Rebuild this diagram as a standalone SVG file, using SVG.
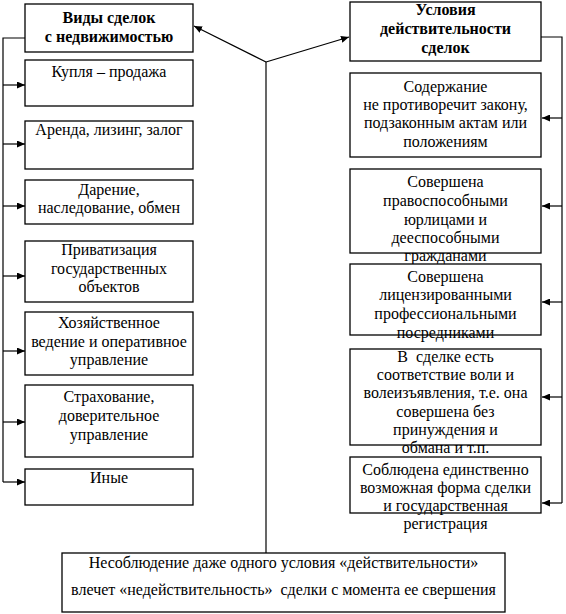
<svg xmlns="http://www.w3.org/2000/svg" width="566" height="614" viewBox="0 0 566 614">
<style>
.box{fill:#fff;stroke:#000;stroke-width:1.3}
.lbl{font-family:'Liberation Serif',serif;font-size:16px;fill:#000;text-anchor:middle}
.bold{font-weight:bold}
.ln{fill:none;stroke:#000;stroke-width:1.2}
</style>
<defs>
<marker id="ah" markerUnits="userSpaceOnUse" markerWidth="8" markerHeight="7" refX="8" refY="3.5" orient="auto">
<path d="M0,0 L8,3.5 L0,7 z" fill="#000"/>
</marker>
</defs>
<rect width="566" height="614" fill="#fff"/>
<g id="connectors" class="ln">
<polyline points="25,38 3,38 3,482"/>
<line x1="3" y1="85" x2="25" y2="85" marker-end="url(#ah)"/>
<line x1="3" y1="144" x2="25" y2="144" marker-end="url(#ah)"/>
<line x1="3" y1="206" x2="25" y2="206" marker-end="url(#ah)"/>
<line x1="3" y1="276" x2="25" y2="276" marker-end="url(#ah)"/>
<line x1="3" y1="351" x2="25" y2="351" marker-end="url(#ah)"/>
<line x1="3" y1="422" x2="25" y2="422" marker-end="url(#ah)"/>
<line x1="3" y1="482" x2="25" y2="482" marker-end="url(#ah)"/>
<polyline points="541,37 562,37 562,503"/>
<line x1="562" y1="118" x2="542" y2="118" marker-end="url(#ah)"/>
<line x1="562" y1="206" x2="542" y2="206" marker-end="url(#ah)"/>
<line x1="562" y1="302" x2="542" y2="302" marker-end="url(#ah)"/>
<line x1="562" y1="397" x2="542" y2="397" marker-end="url(#ah)"/>
<line x1="562" y1="503" x2="542" y2="503" marker-end="url(#ah)"/>
<line x1="266" y1="553" x2="266" y2="62"/>
<line x1="266" y1="62" x2="194" y2="26" marker-end="url(#ah)"/>
<line x1="266" y1="62" x2="349" y2="37" marker-end="url(#ah)"/>
</g>
<g id="vidy">
<rect class="box" x="25" y="4" width="168" height="48"/>
<text class="lbl bold" x="109" y="23">Виды сделок</text>
<text class="lbl bold" x="109" y="42">с недвижимостью</text>
</g>
<g id="kuplya">
<rect class="box" x="25" y="60" width="168" height="46"/>
<text class="lbl" x="109" y="77">Купля – продажа</text>
</g>
<g id="arenda">
<rect class="box" x="25" y="121" width="168" height="48"/>
<text class="lbl" x="109" y="135">Аренда, лизинг, залог</text>
</g>
<g id="darenie">
<rect class="box" x="25" y="180" width="168" height="44"/>
<text class="lbl" x="109" y="195">Дарение,</text>
<text class="lbl" x="109" y="213">наследование, обмен</text>
</g>
<g id="privatizaciya">
<rect class="box" x="25" y="241" width="168" height="61"/>
<text class="lbl" x="109" y="255">Приватизация</text>
<text class="lbl" x="109" y="274">государственных</text>
<text class="lbl" x="109" y="292">объектов</text>
</g>
<g id="hozyaystvennoe">
<rect class="box" x="25" y="312" width="168" height="63"/>
<text class="lbl" x="109" y="328">Хозяйственное</text>
<text class="lbl" x="109" y="347">ведение и оперативное</text>
<text class="lbl" x="109" y="365">управление</text>
</g>
<g id="strahovanie">
<rect class="box" x="25" y="385" width="168" height="72"/>
<text class="lbl" x="109" y="402">Страхование,</text>
<text class="lbl" x="109" y="421">доверительное</text>
<text class="lbl" x="109" y="440">управление</text>
</g>
<g id="inye">
<rect class="box" x="25" y="469" width="168" height="36"/>
<text class="lbl" x="109" y="483">Иные</text>
</g>
<g id="usloviya">
<rect class="box" x="350" y="2" width="191" height="59"/>
<text class="lbl bold" x="445.5" y="15">Условия</text>
<text class="lbl bold" x="445.5" y="34">действительности</text>
<text class="lbl bold" x="445.5" y="53">сделок</text>
</g>
<g id="soderzhanie">
<rect class="box" x="350" y="73" width="191" height="84"/>
<text class="lbl" x="445.5" y="92">Содержание</text>
<text class="lbl" x="445.5" y="110">не противоречит закону,</text>
<text class="lbl" x="445.5" y="128">подзаконным актам или</text>
<text class="lbl" x="445.5" y="147">положениям</text>
</g>
<g id="pravosposobnymi">
<rect class="box" x="350" y="169" width="191" height="84"/>
<text class="lbl" x="445.5" y="187">Совершена</text>
<text class="lbl" x="445.5" y="206">правоспособными</text>
<text class="lbl" x="445.5" y="225">юрлицами и</text>
<text class="lbl" x="445.5" y="243">дееспособными</text>
<text class="lbl" x="445.5" y="261">гражданами</text>
</g>
<g id="licenzirovannymi">
<rect class="box" x="350" y="264" width="191" height="71"/>
<text class="lbl" x="445.5" y="282">Совершена</text>
<text class="lbl" x="445.5" y="300">лицензированными</text>
<text class="lbl" x="445.5" y="319">профессиональными</text>
<text class="lbl" x="445.5" y="338">посредниками</text>
</g>
<g id="volya">
<rect class="box" x="350" y="349" width="191" height="96"/>
<text class="lbl" x="445.5" y="362" xml:space="preserve">В  сделке есть</text>
<text class="lbl" x="445.5" y="380">соответствие воли и</text>
<text class="lbl" x="445.5" y="398">волеизъявления, т.е. она</text>
<text class="lbl" x="445.5" y="417">совершена без</text>
<text class="lbl" x="445.5" y="435">принуждения и</text>
<text class="lbl" x="445.5" y="453">обмана и т.п.</text>
</g>
<g id="forma">
<rect class="box" x="350" y="457" width="191" height="56"/>
<text class="lbl" x="445.5" y="475">Соблюдена единственно</text>
<text class="lbl" x="445.5" y="493">возможная форма сделки</text>
<text class="lbl" x="445.5" y="511">и государственная</text>
<text class="lbl" x="445.5" y="529">регистрация</text>
</g>
<g id="nesoblyudenie">
<rect class="box" x="62" y="553" width="443" height="59"/>
<text class="lbl" x="283.5" y="568">Несоблюдение даже одного условия «действительности»</text>
<text class="lbl" x="283.5" y="595" xml:space="preserve">влечет «недействительность»  сделки с момента ее свершения</text>
</g>
</svg>
